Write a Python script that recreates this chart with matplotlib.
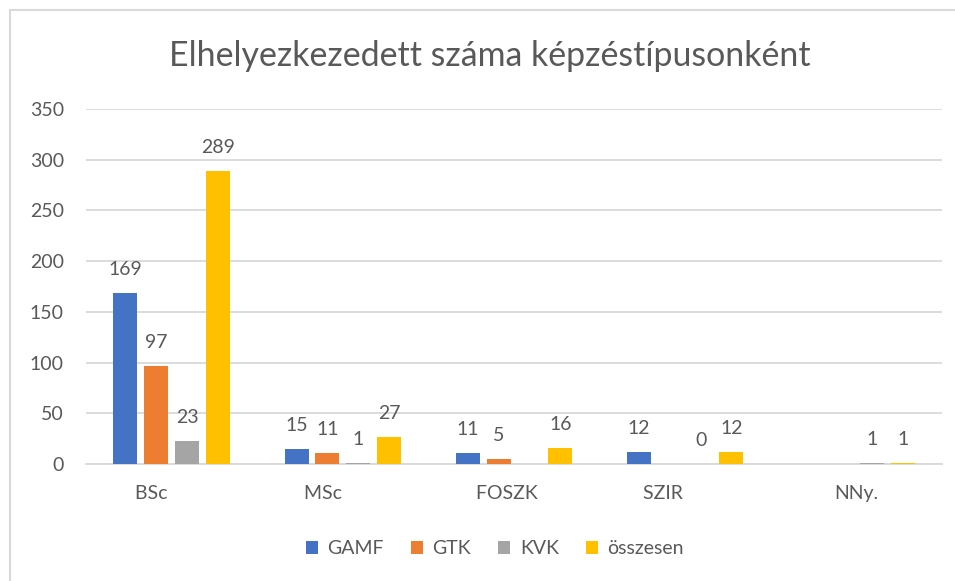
import numpy as np
import matplotlib
matplotlib.use('Agg')
import matplotlib.pyplot as plt
from matplotlib.patches import Rectangle

plt.rcParams['font.family'] = ['Lato', 'DejaVu Sans']

# data (None = no bar / no label)
categories = ['BSc        ', 'MSc        ', 'FOSZK   ', 'SZIR         ', 'NNy.']
series_names = ['GAMF', 'GTK', 'KVK', 'összesen']
gamf = [169, 15, 11, 12, None]
gtk = [97, 11, 5, None, None]
kvk = [23, 1, None, 0, 1]
osszesen = [289, 27, 16, 12, 1]
y_ticks = [0, 50, 100, 150, 200, 250, 300, 350]

colors = ['#4472C4', '#ED7D31', '#A5A5A5', '#FFC000']
text_col = '#595959'
grid_col = '#D9D9D9'
fs = 14

fig = plt.figure(figsize=(9.55, 5.81), dpi=100)
ax = fig.add_axes([86 / 955, 1 - 464 / 581, 856 / 955, 355 / 581])

x = np.arange(len(categories))
width = 0.14
step = 0.18
all_series = [gamf, gtk, kvk, osszesen]

for i, (name, vals) in enumerate(zip(series_names, all_series)):
    xs = [xi + (i - 1.5) * step for xi, v in zip(x, vals) if v is not None]
    hs = [v for v in vals if v is not None]
    ax.bar(xs, hs, width=width, color=colors[i], label=name, zorder=3)
    for bx, h in zip(xs, hs):
        ax.annotate(str(h), (bx, h), xytext=(0, 13), textcoords='offset points',
                    ha='center', va='baseline', fontsize=fs, color=text_col)

ax.set_xlim(-0.5, len(categories) - 0.5)
ax.set_ylim(0, 350)
ax.set_yticks(y_ticks)
ax.set_xticks(x)
ax.set_xticklabels(categories)
ax.yaxis.grid(True, color=grid_col, linewidth=1.3, zorder=0)
ax.set_axisbelow(True)
for side in ['top', 'right', 'left']:
    ax.spines[side].set_visible(False)
ax.spines['bottom'].set_color(grid_col)
ax.spines['bottom'].set_linewidth(1.3)
ax.tick_params(axis='both', length=0, labelsize=fs, labelcolor=text_col)
ax.tick_params(axis='y', pad=16)
ax.tick_params(axis='x', pad=15)

fig.text(490 / 955, 1 - 66 / 581, 'Elhelyezkezedett száma képzéstípusonként',
         ha='center', va='baseline', fontsize=24.4, color=text_col)

leg = fig.legend(loc='center', bbox_to_anchor=(495 / 955, 1 - 549 / 581), ncol=4,
                 frameon=False, fontsize=fs, handlelength=0.6, handleheight=0.6,
                 handletextpad=0.5, columnspacing=1.4)
for t in leg.get_texts():
    t.set_color(text_col)

# chart area border (only the left and top edges are visible in the crop)
fig.patches.append(Rectangle((10 / 955, -0.1), 1.2, 1 - 10 / 581 + 0.1,
                             transform=fig.transFigure, fill=False,
                             edgecolor=grid_col, linewidth=1.5))

fig.savefig('out.png', dpi=100)
